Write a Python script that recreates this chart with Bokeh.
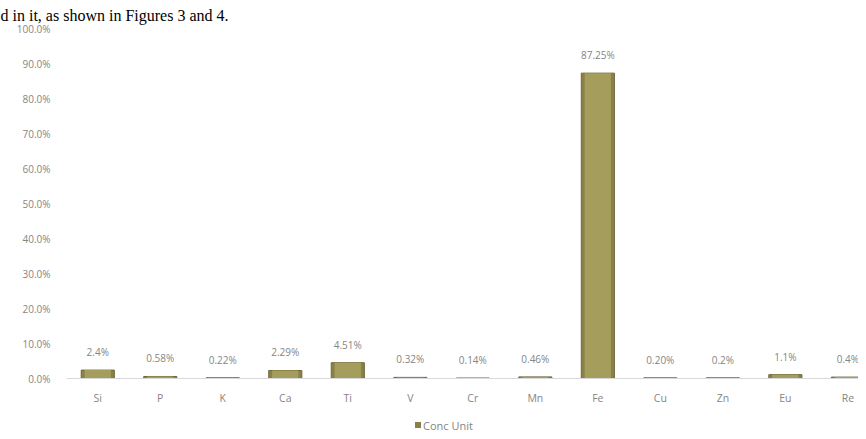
from bokeh.plotting import figure
from bokeh.models import (Range1d, FixedTicker, PrintfTickFormatter, ColumnDataSource,
                          Title, LinearAxis, Div)
from bokeh.layouts import column
from bokeh.embed import file_html
from bokeh.resources import INLINE
from bokeh.core.properties import value

elements = ["Si", "P", "K", "Ca", "Ti", "V", "Cr", "Mn", "Fe", "Cu", "Zn", "Eu", "Re"]
conc = [2.4, 0.58, 0.22, 2.29, 4.51, 0.32, 0.14, 0.46, 87.25, 0.20, 0.2, 1.1, 0.4]
conc_labels = ["2.4%", "0.58%", "0.22%", "2.29%", "4.51%", "0.32%", "0.14%", "0.46%",
               "87.25%", "0.20%", "0.2%", "1.1%", "0.4%"]
y_ticks = [0, 10, 20, 30, 40, 50, 60, 70, 80, 90, 100]
series_name = "Conc Unit"
caption = "d in it, as shown in Figures 3 and 4."

xs = list(range(len(elements)))
src = ColumnDataSource(dict(x=xs, y=conc, lab=conc_labels))

p = figure(width=858, height=416, output_backend="svg", toolbar_location=None,
           x_range=Range1d(-0.5, 12.17), y_range=Range1d(0, 100),
           min_border_left=66, min_border_right=0, min_border_top=22, min_border_bottom=38,
           x_axis_location=None, y_axis_location=None)
p.outline_line_color = None
p.background_fill_color = "white"
p.border_fill_color = "white"
p.xgrid.visible = False
p.ygrid.visible = False

font = "Open Sans"
grey = "#858585"
bar_color = "#8a8148"

title = Title(text=caption, align="left", offset=-66, standoff=9,
              text_font="Liberation Serif", text_font_size="16px",
              text_line_height=0.6,
              text_font_style="normal", text_color="black")
p.add_layout(title, "above")

xa = LinearAxis(ticker=FixedTicker(ticks=xs),
                major_label_overrides={i: e for i, e in zip(xs, elements)})
xa.axis_line_color = "#d9d9d9"
xa.major_tick_line_color = None
xa.minor_tick_line_color = None
xa.major_label_text_font = font
xa.major_label_text_font_size = "10.5px"
xa.major_label_text_color = grey
xa.major_label_standoff = 6
p.add_layout(xa, "below")

ya = LinearAxis(ticker=FixedTicker(ticks=y_ticks), formatter=PrintfTickFormatter(format="%.1f%%"))
ya.axis_line_color = None
ya.major_tick_line_color = None
ya.minor_tick_line_color = None
ya.major_label_text_font = font
ya.major_label_text_font_size = "10px"
ya.major_label_text_color = grey
ya.major_label_standoff = 10
p.add_layout(ya, "left")

p.vbar(x="x", top="y", bottom=0, width=0.53, source=src,
       fill_color=bar_color, line_color="#6f673a", line_width=1)
p.vbar(x="x", top="y", bottom=0, width=0.42, source=src,
       fill_color="#a59d5c", line_color=None)

p.text(x="x", y="y", text="lab", source=src, text_align="center", text_baseline="middle",
       y_offset=-18, text_font=value(font), text_font_size="10px", text_color=grey)

legend_div = Div(
    text=(f"<span style='display:inline-block;width:6px;height:6px;background:{bar_color};"
          f"margin-right:2px;vertical-align:middle'></span>"
          f"<span style='vertical-align:middle'>{series_name}</span>"),
    width=858, height=15, margin=(0, 0, 0, 0),
    styles={"font-family": font, "font-size": "11px", "color": grey,
            "line-height": "15px", "padding-left": "415px"})

layout = column(p, legend_div, spacing=0)

open("out.html", "w").write(file_html(layout, INLINE))
